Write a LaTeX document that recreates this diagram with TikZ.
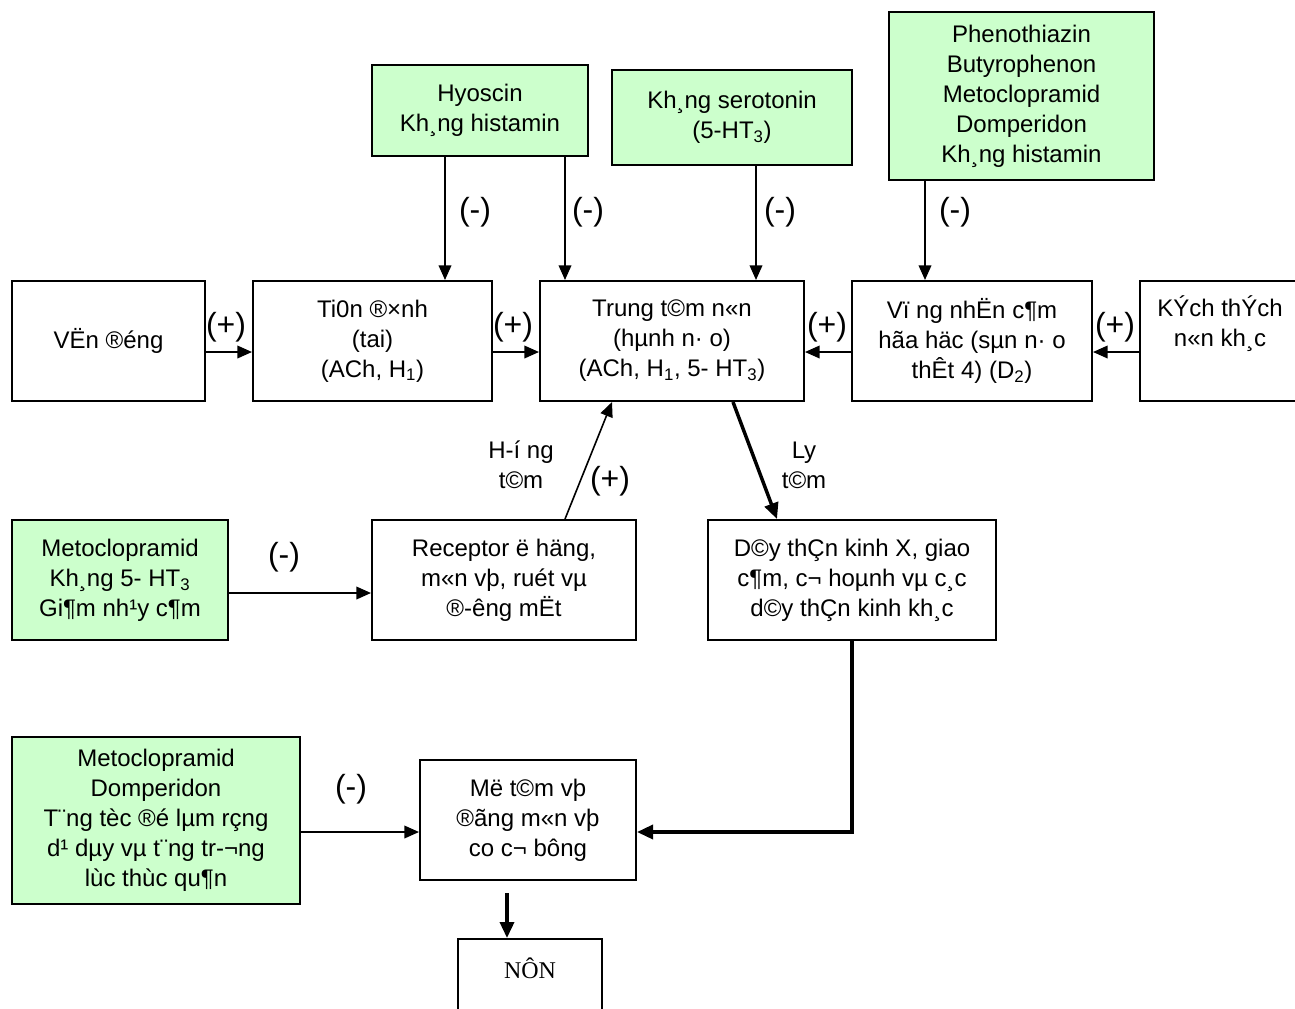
\documentclass[tikz,border=0pt]{standalone}
\usepackage{fontspec}
\setmainfont{Liberation Sans}
\newfontfamily\seriffont{Liberation Serif}
\usetikzlibrary{arrows.meta,calc}
\definecolor{drugfill}{RGB}{204,255,204}
\begin{document}
\begin{tikzpicture}[x=0.75pt,y=-0.75pt,
  box/.style={draw, line width=1.5pt, inner sep=0pt, align=center, font=\fontsize{18}{22.5}\selectfont},
  drug/.style={box, fill=drugfill},
  sz/.style 2 args={minimum width=#1*0.75pt, minimum height=#2*0.75pt},
  arr/.style={line width=1.2pt, -{Triangle[length=11pt,width=9.5pt]}},
  thk/.style={line width=2.6pt, -{Triangle[length=12pt,width=10.5pt]}},
  sign/.style={font=\fontsize{24}{28}\selectfont, inner sep=0pt},
  lab/.style={font=\fontsize{18}{22.5}\selectfont, align=center, inner sep=0pt}]
\useasboundingbox (0,0) rectangle (1295,1008);
% main row
\node[box, sz={193}{120}] (van) at (108.5,341) {VËn ®éng};
\node[box, sz={239}{120}] (ten) at (372.5,341) {Ti0n ®×nh\\(tai)\\(ACh, H\textsubscript{1})};
\node[box, sz={264}{120}] (tt) at (672,341) {Trung t©m n«n\\(hµnh n· o)\\(ACh, H\textsubscript{1}, 5- HT\textsubscript{3})};
\node[box, sz={240}{120}] (vung) at (972,341) {Vï ng nhËn c¶m\\hãa häc (sµn n· o\\thÊt 4) (D\textsubscript{2})};
\node[box, sz={160}{120}] (kich) at (1220,341) {KÝch thÝch\\n«n kh¸c\\\strut};
% drug boxes top
\node[drug, sz={216}{91}] (hyo) at (480,110.5) {Hyoscin\\Kh¸ng histamin};
\node[drug, sz={240}{95}] (sero) at (732,117.5) {Kh¸ng serotonin\\(5-HT\textsubscript{3})};
\node[drug, sz={265}{168}] (pheno) at (1021.5,96) {Phenothiazin\\Butyrophenon\\Metoclopramid\\Domperidon\\Kh¸ng histamin};
% middle row
\node[drug, sz={216}{120}] (meto1) at (120,580) {Metoclopramid\\Kh¸ng 5- HT\textsubscript{3}\\Gi¶m nh¹y c¶m};
\node[box, sz={264}{120}] (rec) at (504,580) {Receptor ë häng,\\m«n vþ, ruét vµ\\®-êng mËt};
\node[box, sz={288}{120}] (day) at (852,580) {D©y thÇn kinh X, giao\\c¶m, c¬ hoµnh vµ c¸c\\d©y thÇn kinh kh¸c};
% bottom
\node[drug, sz={288}{167}] (meto2) at (156,820.5) {Metoclopramid\\Domperidon\\T¨ng tèc ®é lµm rçng\\d¹ dµy vµ t¨ng tr-¬ng\\lùc thùc qu¶n};
\node[box, sz={216}{120}] (mo) at (528,820) {Më t©m vþ\\®ãng m«n vþ\\co c¬ bông};
\node[box, sz={144}{74}, text depth=12pt, font=\seriffont\fontsize{18}{22.5}\selectfont] (non) at (530,976) {NÔN};
% top inhibitory arrows
\coordinate (h1) at ($(hyo.south)+(-35,0)$);
\coordinate (h2) at ($(hyo.south)+(85,0)$);
\coordinate (s1) at ($(sero.south)+(24,0)$);
\coordinate (p1) at ($(pheno.south)+(-96.5,0)$);
\draw[arr] (h1) -- (h1 |- ten.north);
\draw[arr] (h2) -- (h2 |- tt.north);
\draw[arr] (s1) -- (s1 |- tt.north);
\draw[arr] (p1) -- (p1 |- vung.north);
\node[sign] (n1) at (475,212) {(-)};
\node[sign] (n2) at (588,212) {(-)};
\node[sign] (n3) at (780,212) {(-)};
\node[sign] (n4) at (955,212) {(-)};
% horizontal arrows main row
\draw[arr] ($(van.east)+(0,11)$) -- ($(ten.west)+(0,11)$);
\draw[arr] ($(ten.east)+(0,11)$) -- ($(tt.west)+(0,11)$);
\draw[arr] ($(vung.west)+(0,11)$) -- ($(tt.east)+(0,11)$);
\draw[arr] ($(kich.west)+(0,11)$) -- ($(vung.east)+(0,11)$);
\node[sign] (p1l) at (226,327) {(+)};
\node[sign] (p2l) at (513,327) {(+)};
\node[sign] (p3l) at (827,327) {(+)};
\node[sign] (p4l) at (1115,327) {(+)};
% receptor -> centre, centre -> nerves
\draw[arr] ($(rec.north)+(61,0)$) -- ($(tt.south)+(-60,0)$);
\draw[thk] ($(tt.south)+(61,0)$) -- ($(day.north)+(-75,0)$);
\node[lab] (huong) at (521,465) {H-í ng\\t©m};
\node[sign] (p5l) at (610,481) {(+)};
\node[lab] (ly) at (804,465) {Ly\\t©m};
% left drugs
\draw[arr] ($(meto1.east)+(0,13)$) -- ($(rec.west)+(0,13)$);
\node[sign] (n5) at (284,557) {(-)};
\draw[arr] ($(meto2.east)+(0,11.5)$) -- ($(mo.west)+(0,12)$);
\node[sign] (n6) at (351,789) {(-)};
% nerves -> mo
\draw[thk] (day.south) |- ($(mo.east)+(0,12)$);
% mo -> non
\coordinate (m1) at ($(mo.south)+(-21,12)$);
\draw[thk] (m1) -- (m1 |- non.north);
\end{tikzpicture}
\end{document}
